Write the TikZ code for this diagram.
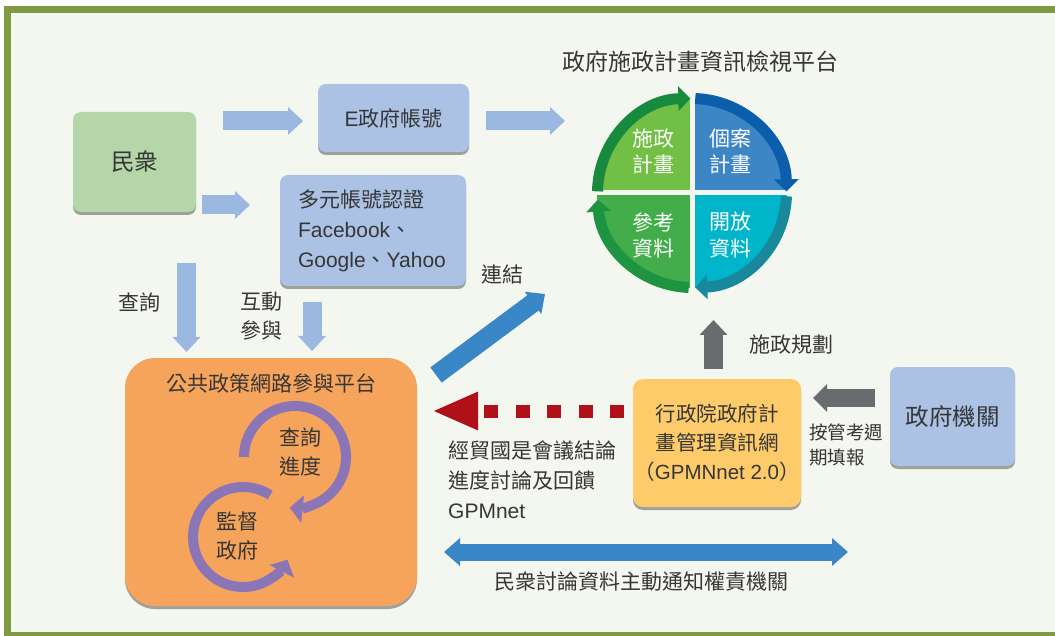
\documentclass[tikz,border=0pt]{standalone}
\usepackage{fontspec}
\setmainfont{Liberation Sans}
\newfontfamily\cjk{Noto Sans CJK TC}
\usetikzlibrary{arrows.meta,shadows,calc}
\definecolor{framegreen}{HTML}{7F9A40}
\definecolor{bgc}{HTML}{F4F7F0}
\definecolor{txtc}{HTML}{363636}
\definecolor{greenbox}{HTML}{B4D6A8}
\definecolor{bluebox}{HTML}{ABC2E4}
\definecolor{orangebox}{HTML}{F6A45C}
\definecolor{yellowbox}{HTML}{FDCB6A}
\definecolor{paleblue}{HTML}{9AB8E0}
\definecolor{linkblue}{HTML}{3A87C8}
\definecolor{greyarrow}{HTML}{696B6E}
\definecolor{redarrow}{HTML}{B01018}
\definecolor{purplearc}{HTML}{8A76B6}
\definecolor{qTL}{HTML}{71BF45}
\definecolor{qTR}{HTML}{3D86C6}
\definecolor{qBR}{HTML}{00B4C9}
\definecolor{qBL}{HTML}{43AD4B}
\definecolor{aTL}{HTML}{188A3E}
\definecolor{aTR}{HTML}{0C5EAA}
\definecolor{aBR}{HTML}{18899C}
\definecolor{aBL}{HTML}{1E9442}
\tikzset{
  box/.style={rounded corners=8pt, inner sep=0pt, text=txtc,
    general shadow={fill=black, opacity=0.35, shadow yshift=-3pt}},
  lbl/.style={text=txtc, inner sep=0pt, font=\cjk\fontsize{21}{29}\selectfont},
  qtxt/.style={text=white, inner sep=0pt, align=center, font=\cjk\fontsize{21}{26}\selectfont},
  fat/.style={line width=19pt, -{Triangle[width=27pt,length=15pt]}},
  arcband/.style={line width=11pt, -{Triangle[width=24pt,length=12pt]}},
  parc/.style={line width=10pt, draw=purplearc, -{Triangle[width=27pt,length=13pt]}}
}
\begin{document}
\begin{tikzpicture}[x=1pt,y=-1pt]
\useasboundingbox (0,0) rectangle (1055,636);
\fill[white] (0,0) rectangle (1055,636);
\fill[framegreen] (4,6) rectangle (1055,636);
\fill[bgc] (11,13) rectangle (1055,632);

% boxes
\node[box, fill=greenbox, minimum width=123pt, minimum height=100pt,
  font=\cjk\fontsize{23.5}{28}\selectfont] (people) at (134.5,162) {民衆};
\node[box, fill=bluebox, minimum width=151pt, minimum height=68pt,
  font=\fontsize{21}{28}\selectfont] (egov) at (393.5,118) {E{\cjk 政府帳號}};
\node[box, fill=bluebox, minimum width=186pt, minimum height=111pt,
  text width=150pt, align=left, font=\fontsize{21}{30}\selectfont] (multi) at (373,230.5)
  {{\cjk 多元帳號認證}\\Facebook{\cjk 、}\\Google{\cjk 、}Yahoo};
\node[box, rounded corners=30pt, fill=orangebox, minimum width=292pt, minimum height=248pt] (platform) at (271,482) {};
\node[box, rounded corners=10pt, fill=yellowbox, minimum width=168pt, minimum height=128pt,
  align=center, font=\fontsize{20.5}{29}\selectfont] (gpmn) at (717,443)
  {{\cjk 行政院政府計}\\{\cjk 畫管理資訊網}\\{\cjk （}GPMNnet 2.0{\cjk ）}};
\node[box, fill=bluebox, minimum width=125pt, minimum height=99pt,
  font=\cjk\fontsize{23.5}{28}\selectfont] (govorg) at (952.5,416.5) {政府機關};

% circle platform
\coordinate (cc) at (692,193);
\fill[qTL] (cc) -- ++(180:95) arc[start angle=180,end angle=270,radius=95] -- cycle;
\fill[qTR] (cc) -- ++(270:95) arc[start angle=270,end angle=360,radius=95] -- cycle;
\fill[qBR] (cc) -- ++(0:95) arc[start angle=0,end angle=90,radius=95] -- cycle;
\fill[qBL] (cc) -- ++(90:95) arc[start angle=90,end angle=180,radius=95] -- cycle;
\draw[bgc, line width=5pt] ($(cc)+(0,-101)$) -- ($(cc)+(0,101)$);
\draw[bgc, line width=5pt] ($(cc)+(-101,0)$) -- ($(cc)+(101,0)$);
\draw[arcband, draw=aTL] ($(cc)+(181:94.5)$) arc[start angle=181,end angle=269,radius=94.5];
\draw[arcband, draw=aTR] ($(cc)+(272:94.5)$) arc[start angle=272,end angle=359,radius=94.5];
\draw[arcband, draw=aBR] ($(cc)+(2:94.5)$) arc[start angle=2,end angle=88,radius=94.5];
\draw[arcband, draw=aBL] ($(cc)+(92:94.5)$) arc[start angle=92,end angle=176,radius=94.5];
\node[qtxt] (q1) at (653,152) {施政\\計畫};
\node[qtxt] (q2) at (730,152) {個案\\計畫};
\node[qtxt] (q3) at (653,235) {參考\\資料};
\node[qtxt] (q4) at (730,235) {開放\\資料};
\node[lbl, font=\cjk\fontsize{23}{28}\selectfont] (ctitle) at (700,62) {政府施政計畫資訊檢視平台};

% platform content
\node[lbl] (ptitle) at (271,383) {公共政策網路參與平台};
\coordinate (uc) at (295,457);
\coordinate (lc) at (243,537);
\draw[parc] ($(uc)+(180:51)$) arc[start angle=180,end angle=456,radius=51];
\draw[parc] ($(lc)+(303:50)$) arc[start angle=303,end angle=27,radius=50];
\node[lbl, align=center] (query) at (300,452) {查詢\\進度};
\node[lbl, align=center] (watch) at (237,536) {監督\\政府};

% pale arrows
\coordinate (p1s) at (223,121); \coordinate (p1e) at (303,121);
\coordinate (p2s) at (202,205); \coordinate (p2e) at (250,205);
\coordinate (p3s) at (186.5,263); \coordinate (p3e) at (186.5,352);
\coordinate (p4s) at (312,302); \coordinate (p4e) at (312,351);
\coordinate (p5s) at (486,121); \coordinate (p5e) at (565,121);
\draw[fat, draw=paleblue] (p1s) -- (p1e);
\draw[fat, draw=paleblue] (p2s) -- (p2e);
\draw[fat, draw=paleblue] (p3s) -- (p3e);
\draw[fat, draw=paleblue] (p4s) -- (p4e);
\draw[fat, draw=paleblue] (p5s) -- (p5e);

% link arrow
\coordinate (ls) at (436,375); \coordinate (le) at (545,294);
\draw[fat, draw=linkblue] (ls) -- (le);

% grey arrows
\coordinate (g1s) at (875,398); \coordinate (g1e) at (813,398);
\coordinate (g2s) at (713.5,369); \coordinate (g2e) at (713.5,320);
\draw[line width=18pt, draw=greyarrow, -{Triangle[width=27pt,length=14pt]}] (g1s) -- (g1e);
\draw[fat, draw=greyarrow] (g2s) -- (g2e);

% red dashed arrow
\coordinate (rs) at (624,411); \coordinate (re) at (432,411);
\draw[line width=13pt, draw=redarrow, dash pattern=on 14pt off 17.5pt,
  -{Triangle[width=35pt,length=46pt]}] (rs) -- (re);

% double arrow
\coordinate (ds) at (444,552); \coordinate (de) at (848,552);
\draw[line width=17pt, draw=linkblue,
  {Triangle[width=27pt,length=16pt]}-{Triangle[width=27pt,length=16pt]}] (ds) -- (de);

% labels
\node[lbl] (lq) at (139,302) {查詢};
\node[lbl, align=center] (li) at (261,316.5) {互動\\參與};
\node[lbl] (ll) at (502,274) {連結};
\node[lbl] (lp) at (791,345) {施政規劃};
\node[lbl, anchor=north west, align=left, font=\cjk\fontsize{18.5}{25}\selectfont] (lr) at (809,424) {按管考週\\期填報};
\node[lbl, anchor=north west, align=left, font=\fontsize{21}{30}\selectfont] (lf) at (448,441)
  {{\cjk 經貿國是會議結論}\\{\cjk 進度討論及回饋}\\GPMnet};
\node[lbl] (ln) at (641,582) {民衆討論資料主動通知權責機關};
\end{tikzpicture}
\end{document}
